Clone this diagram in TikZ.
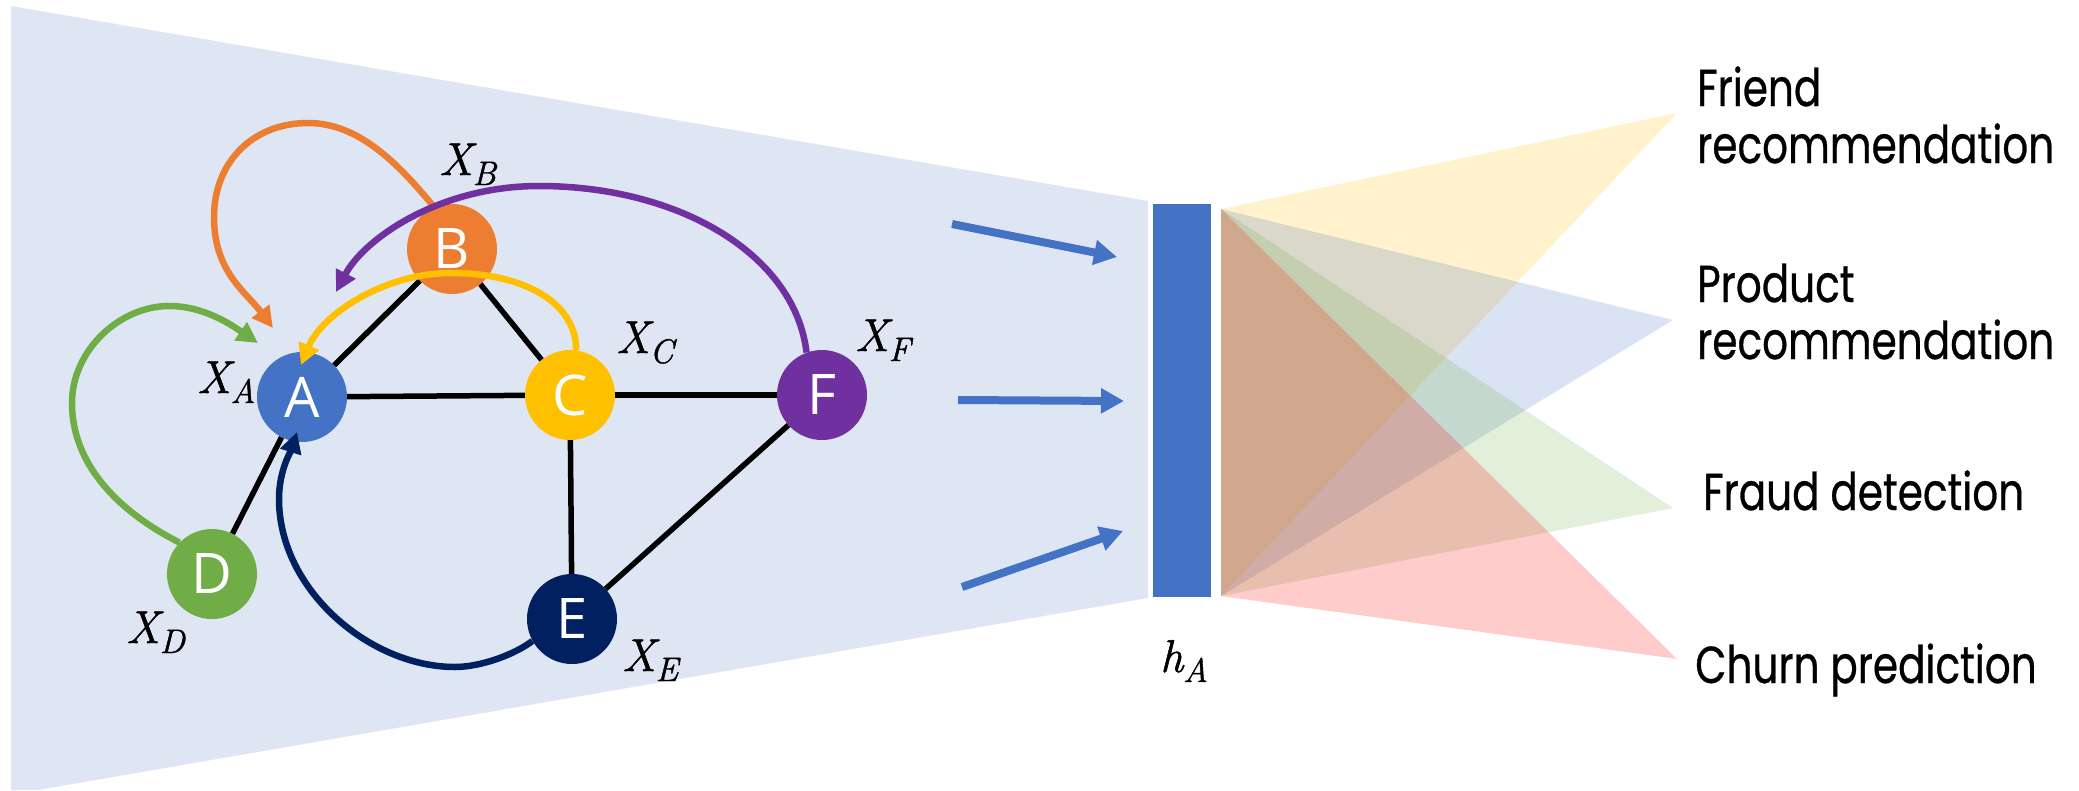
\documentclass[tikz,border=0pt]{standalone}
\usepackage{fontspec}
\usetikzlibrary{arrows.meta}
\newfontfamily\lblfont{Poppins}[FakeStretch=0.78,FakeBold=0.6]
\newfontfamily\letfont{Open Sans}
\newfontfamily\mfont{Latin Modern Roman}[FakeBold=1.2]
\definecolor{bgblue}{RGB}{222,230,243}
\definecolor{cA}{RGB}{68,114,196}
\definecolor{cB}{RGB}{237,125,49}
\definecolor{cC}{RGB}{255,192,0}
\definecolor{cD}{RGB}{112,173,71}
\definecolor{cE}{RGB}{0,32,96}
\definecolor{cF}{RGB}{112,48,160}
\definecolor{cR}{RGB}{255,0,0}
\newcommand\xlab[2]{\mfont\fontsize{46}{50}\selectfont\itshape #1\raisebox{-10pt}{\fontsize{34}{36}\selectfont #2}}
\begin{document}
\begin{tikzpicture}[x=1pt,y=-1pt,
 gnode/.style={circle, minimum size=90pt, inner sep=0pt, text=white, font=\letfont\fontsize{56}{60}\selectfont},
 edge/.style={line width=5.5pt, black},
 msg/.style={line width=6.5pt, -{Triangle[length=21pt,width=21pt]}},
 flow/.style={line width=8pt, cA, -{Triangle[length=23pt,width=24pt]}},
 lab/.style={anchor=base west, inner sep=0pt},
 task/.style={anchor=base west, inner sep=0pt, font=\lblfont\fontsize{52}{60}\selectfont},
 fan/.style={fill opacity=0.2}]
\useasboundingbox (0,0) rectangle (2079,790);
% background funnel
\fill[bgblue] (11,6) -- (1148,201) -- (1148,598) -- (38,790) -- (11,790) -- cycle;
% fan of tasks
\coordinate (ht) at (1221,209);
\coordinate (hb) at (1221,596);
\coordinate (tFr) at (1677,113);
\coordinate (tPr) at (1673,320);
\coordinate (tFd) at (1673,508);
\coordinate (tCh) at (1677,659);
\fill[cC, fan] (ht) -- (tFr) -- (hb) -- cycle;
\fill[cA, fan] (ht) -- (tPr) -- (hb) -- cycle;
\fill[cD, fan] (ht) -- (tFd) -- (hb) -- cycle;
\fill[cR, fan] (ht) -- (tCh) -- (hb) -- cycle;
% embedding bar
\node[fill=cA, minimum width=58pt, minimum height=393pt, inner sep=0pt, anchor=north west] (hbar) at (1153,204) {};
% graph nodes
\node[gnode, fill=cA] (A) at (302,397) {A};
\node[gnode, fill=cB] (B) at (452,249) {B};
\node[gnode, fill=cC] (C) at (570,395) {C};
\node[gnode, fill=cD] (D) at (212,574) {D};
\node[gnode, fill=cE] (E) at (572,619) {E};
\node[gnode, fill=cF] (F) at (822,395) {F};
% edges
\draw[edge] (A) -- (B);
\draw[edge] (A) -- (C);
\draw[edge] (A) -- (D);
\draw[edge] (B) -- (C);
\draw[edge] (C) -- (E);
\draw[edge] (C) -- (F);
\draw[edge] (E) -- (F);
% message arrows
\coordinate (oA) at (273,328);
\coordinate (pA) at (336,292);
\coordinate (yA) at (301,365);
\coordinate (gA) at (258,343);
\coordinate (eA) at (297,432);
\draw[msg, cB] (B.113) .. controls (397,162) and (358,123) .. (308,123)
  .. controls (253,123) and (214,162) .. (214,217)
  .. controls (214,272) and (246,292) .. (oA);
\draw[msg, cF] (F.110) .. controls (795,255) and (680,186) .. (539,186)
  .. controls (439,186) and (364,239) .. (pA);
\draw[msg, cC] (C.82) .. controls (576,300) and (520,273) .. (451,273)
  .. controls (385,273) and (322,314) .. (yA);
\draw[msg, cD] (D.136) .. controls (127,516) and (72,470) .. (72,403)
  .. controls (72,350) and (120,306) .. (169,306)
  .. controls (205,306) and (233,326) .. (gA);
\draw[msg, cE] (E.209) .. controls (514,655) and (480,667) .. (455,667)
  .. controls (370,667) and (279,590) .. (279,499)
  .. controls (279,470) and (291,451) .. (eA);
% flow arrows
\coordinate (f1s) at (952,224);
\coordinate (f1e) at (1117,257);
\coordinate (f2s) at (958,400);
\coordinate (f2e) at (1124,401);
\coordinate (f3s) at (962,587);
\coordinate (f3e) at (1123,531);
\draw[flow] (f1s) -- (f1e);
\draw[flow] (f2s) -- (f2e);
\draw[flow] (f3s) -- (f3e);
% labels
\node[lab] (xA) at (197,393) {\xlab{X}{A}};
\node[lab] (xB) at (439,175) {\xlab{X}{B}};
\node[lab] (xC) at (616,353) {\xlab{X}{C}};
\node[lab] (xF) at (855,351) {\xlab{X}{F}};
\node[lab] (xD) at (126,643) {\xlab{X}{D}};
\node[lab] (xE) at (622,671) {\xlab{X}{E}};
\node[lab] (hA) at (1160,672) {\xlab{h}{A}};
% task labels
\node[task] (t1a) at (1697,106) {Friend};
\node[task] (t1b) at (1697,163) {recommendation};
\node[task] (t2a) at (1697,302) {Product};
\node[task] (t2b) at (1697,359) {recommendation};
\node[task] (t3) at (1703,510) {Fraud detection};
\node[task] (t4) at (1695,683) {Churn prediction};
\end{tikzpicture}
\end{document}
